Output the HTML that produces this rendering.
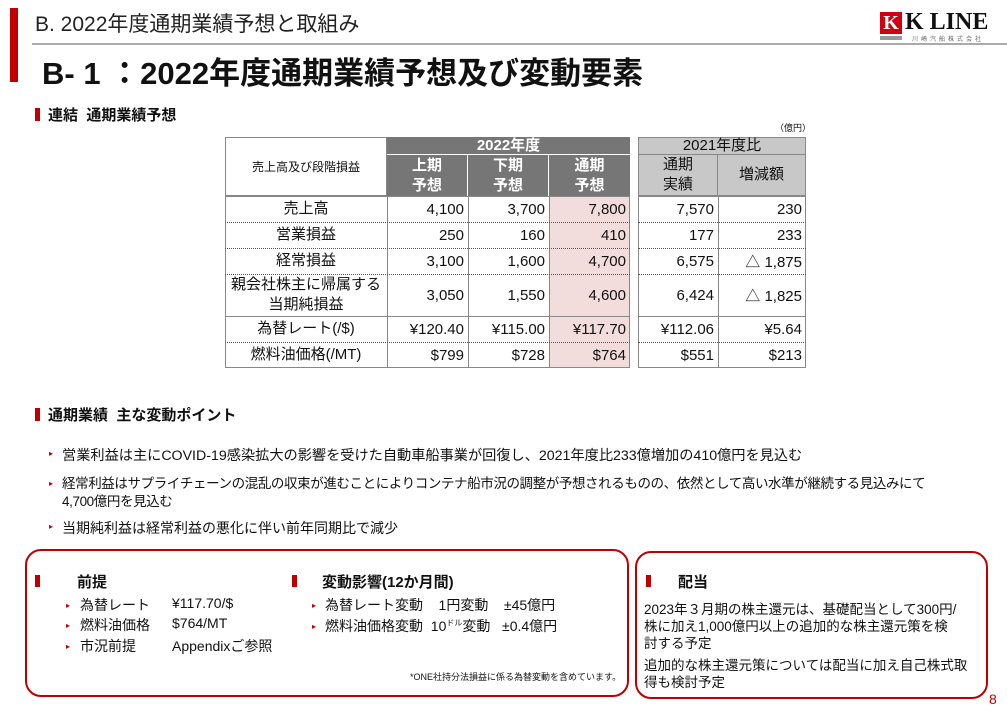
<!DOCTYPE html>
<html><head><meta charset="utf-8"><style>
*{margin:0;padding:0;box-sizing:border-box}
body{width:1007px;height:715px;background:#fff;position:relative;overflow:hidden;font-family:"Liberation Sans","Noto Sans CJK JP",sans-serif;color:#111}
.a{position:absolute;white-space:nowrap}
.c{position:absolute;display:flex;align-items:center;justify-content:flex-end;padding-right:4px;font-size:15px}
.cc{justify-content:center;padding-right:0;text-align:center;line-height:20px}
.h{background:#767676;color:#fff;font-weight:bold}
.g{background:#c8c8c8;color:#111}
.sq{position:absolute;width:5px;height:13px;background:#c00000}
.tri{position:absolute;font-size:8px;color:#c00000}
</style></head><body>
<div class="a" style="left:10px;top:8px;width:8px;height:74px;background:#c00000"></div>
<div class="a" style="left:35px;top:8px;font-size:21px;color:#222">B. 2022年度通期業績予想と取組み</div>
<div class="a" style="left:32px;top:43px;width:975px;height:2px;background:#aaa"></div>
<div class="a" style="left:42px;top:48px;font-size:31px;font-weight:bold">B- 1 ：2022年度通期業績予想及び変動要素</div>
<div class="a" style="left:880px;top:12px;width:22px;height:22px;background:#d00010;color:#fff;font:bold 20px 'Liberation Serif',serif;text-align:center;line-height:22px">K</div>
<div class="a" style="left:905px;top:9px;font:bold 24px 'Liberation Serif',serif">K LINE</div>
<div class="a" style="left:880px;top:36px;width:22px;height:4px;background:#999"></div>
<div class="a" style="left:912px;top:34px;font-size:6px;color:#666;letter-spacing:3px">川崎汽船株式会社</div>

<div class="sq" style="left:35px;top:108px"></div>
<div class="a" style="left:48px;top:104px;font-size:15px;font-weight:bold">連結&nbsp; 通期業績予想</div>
<div class="a" style="left:775px;top:121px;font-size:9px">（億円）</div>

<div class="c cc" style="left:225px;top:137px;width:162px;height:59px;border:1px solid #888;font-size:12px">売上高及び段階損益</div>
<div class="c cc h" style="left:387px;top:137px;width:243px;height:18px;border-bottom:1px solid #fff">2022年度</div>
<div class="c cc h" style="left:387px;top:155px;width:81px;height:41px;border-right:1px solid #fff">上期<br>予想</div>
<div class="c cc h" style="left:468px;top:155px;width:81px;height:41px;border-right:1px solid #fff">下期<br>予想</div>
<div class="c cc h" style="left:549px;top:155px;width:81px;height:41px">通期<br>予想</div>
<div class="c cc g" style="left:638px;top:137px;width:168px;height:18px;border:1px solid #888">2021年度比</div>
<div class="c cc g" style="left:638px;top:155px;width:80px;height:41px;border:1px solid #888;border-top:none">通期<br>実績</div>
<div class="c cc g" style="left:718px;top:155px;width:88px;height:41px;border:1px solid #888;border-top:none;border-left:none">増減額</div>
<div class="a" style="left:549px;top:196px;width:81px;height:172px;background:#f2dcdc"></div>
<div class="a" style="left:225px;top:196px;width:405px;height:172px;border:1px solid #888"></div>
<div class="a" style="left:638px;top:196px;width:168px;height:172px;border:1px solid #888"></div>
<div class="a" style="left:387px;top:196px;width:1px;height:172px;background:#888"></div>
<div class="a" style="left:468px;top:196px;width:1px;height:172px;background:#888"></div>
<div class="a" style="left:549px;top:196px;width:1px;height:172px;background:#888"></div>
<div class="a" style="left:718px;top:196px;width:1px;height:172px;background:#888"></div>
<div class="a" style="left:225px;top:222px;width:405px;border-top:1px dotted #555"></div>
<div class="a" style="left:638px;top:222px;width:168px;border-top:1px dotted #555"></div>
<div class="a" style="left:225px;top:248px;width:405px;border-top:1px dotted #555"></div>
<div class="a" style="left:638px;top:248px;width:168px;border-top:1px dotted #555"></div>
<div class="a" style="left:225px;top:274px;width:405px;border-top:1px dotted #555"></div>
<div class="a" style="left:638px;top:274px;width:168px;border-top:1px dotted #555"></div>
<div class="a" style="left:225px;top:316px;width:405px;border-top:1px solid #888"></div>
<div class="a" style="left:638px;top:316px;width:168px;border-top:1px solid #888"></div>
<div class="a" style="left:225px;top:342px;width:405px;border-top:1px dotted #555"></div>
<div class="a" style="left:638px;top:342px;width:168px;border-top:1px dotted #555"></div>

<div class="c cc" style="left:225px;top:196px;width:162px;height:26px">売上高</div>
<div class="c" style="left:387px;top:196px;width:81px;height:26px">4,100</div>
<div class="c" style="left:468px;top:196px;width:81px;height:26px">3,700</div>
<div class="c" style="left:549px;top:196px;width:81px;height:26px">7,800</div>
<div class="c" style="left:638px;top:196px;width:80px;height:26px">7,570</div>
<div class="c" style="left:718px;top:196px;width:88px;height:26px">230</div>

<div class="c cc" style="left:225px;top:222px;width:162px;height:26px">営業損益</div>
<div class="c" style="left:387px;top:222px;width:81px;height:26px">250</div>
<div class="c" style="left:468px;top:222px;width:81px;height:26px">160</div>
<div class="c" style="left:549px;top:222px;width:81px;height:26px">410</div>
<div class="c" style="left:638px;top:222px;width:80px;height:26px">177</div>
<div class="c" style="left:718px;top:222px;width:88px;height:26px">233</div>

<div class="c cc" style="left:225px;top:248px;width:162px;height:26px">経常損益</div>
<div class="c" style="left:387px;top:248px;width:81px;height:26px">3,100</div>
<div class="c" style="left:468px;top:248px;width:81px;height:26px">1,600</div>
<div class="c" style="left:549px;top:248px;width:81px;height:26px">4,700</div>
<div class="c" style="left:638px;top:248px;width:80px;height:26px">6,575</div>
<div class="c" style="left:718px;top:248px;width:88px;height:26px">△ 1,875</div>

<div class="c cc" style="left:225px;top:274px;width:162px;height:42px">親会社株主に帰属する<br>当期純損益</div>
<div class="c" style="left:387px;top:274px;width:81px;height:42px">3,050</div>
<div class="c" style="left:468px;top:274px;width:81px;height:42px">1,550</div>
<div class="c" style="left:549px;top:274px;width:81px;height:42px">4,600</div>
<div class="c" style="left:638px;top:274px;width:80px;height:42px">6,424</div>
<div class="c" style="left:718px;top:274px;width:88px;height:42px">△ 1,825</div>

<div class="c cc" style="left:225px;top:316px;width:162px;height:26px">為替レート(/$)</div>
<div class="c" style="left:387px;top:316px;width:81px;height:26px">¥120.40</div>
<div class="c" style="left:468px;top:316px;width:81px;height:26px">¥115.00</div>
<div class="c" style="left:549px;top:316px;width:81px;height:26px">¥117.70</div>
<div class="c" style="left:638px;top:316px;width:80px;height:26px">¥112.06</div>
<div class="c" style="left:718px;top:316px;width:88px;height:26px">¥5.64</div>

<div class="c cc" style="left:225px;top:342px;width:162px;height:26px">燃料油価格(/MT)</div>
<div class="c" style="left:387px;top:342px;width:81px;height:26px">$799</div>
<div class="c" style="left:468px;top:342px;width:81px;height:26px">$728</div>
<div class="c" style="left:549px;top:342px;width:81px;height:26px">$764</div>
<div class="c" style="left:638px;top:342px;width:80px;height:26px">$551</div>
<div class="c" style="left:718px;top:342px;width:88px;height:26px">$213</div>

<div class="sq" style="left:35px;top:408px"></div>
<div class="a" style="left:48px;top:404px;font-size:15px;font-weight:bold">通期業績&nbsp; 主な変動ポイント</div>

<div class="tri" style="left:49px;top:449px">▸</div>
<div class="a" style="left:62px;top:445px;font-size:14.2px">営業利益は主にCOVID-19感染拡大の影響を受けた自動車船事業が回復し、2021年度比233億増加の410億円を見込む</div>
<div class="tri" style="left:49px;top:479px">▸</div>
<div class="a" style="left:62px;top:475px;font-size:13.5px;line-height:18px;letter-spacing:-0.4px">経常利益はサプライチェーンの混乱の収束が進むことによりコンテナ船市況の調整が予想されるものの、依然として高い水準が継続する見込みにて<br>4,700億円を見込む</div>
<div class="tri" style="left:49px;top:522px">▸</div>
<div class="a" style="left:62px;top:518px;font-size:14px">当期純利益は経常利益の悪化に伴い前年同期比で減少</div>

<div class="a" style="left:25px;top:549px;width:604px;height:148px;border:2px solid #c00000;border-radius:16px"></div>
<div class="a" style="left:635px;top:551px;width:353px;height:148px;border:2px solid #c00000;border-radius:16px"></div>

<div class="sq" style="left:35px;top:575px;height:12px"></div>
<div class="a" style="left:77px;top:571px;font-size:15px;font-weight:bold">前提</div>
<div class="tri" style="left:66px;top:601px">▸</div><div class="a" style="left:80px;top:595px;font-size:14px">為替レート</div><div class="a" style="left:172px;top:595px;font-size:14px">¥117.70/$</div>
<div class="tri" style="left:66px;top:621px">▸</div><div class="a" style="left:80px;top:615px;font-size:14px">燃料油価格</div><div class="a" style="left:172px;top:615px;font-size:14px">$764/MT</div>
<div class="tri" style="left:66px;top:642px">▸</div><div class="a" style="left:80px;top:636px;font-size:14px">市況前提</div><div class="a" style="left:172px;top:636px;font-size:14px">Appendixご参照</div>

<div class="sq" style="left:292px;top:575px;height:12px"></div>
<div class="a" style="left:322px;top:571px;font-size:15px;font-weight:bold">変動影響(12か月間)</div>
<div class="tri" style="left:312px;top:601px">▸</div><div class="a" style="left:325px;top:595px;font-size:14px">為替レート変動&nbsp;&nbsp;&nbsp; 1円変動&nbsp;&nbsp;&nbsp; ±45億円</div>
<div class="tri" style="left:312px;top:622px">▸</div><div class="a" style="left:325px;top:616px;font-size:14px">燃料油価格変動&nbsp; 10<span style="font-size:8px;vertical-align:super">ドル</span>変動&nbsp;&nbsp; ±0.4億円</div>
<div class="a" style="left:410px;top:670px;font-size:9px">*ONE社持分法損益に係る為替変動を含めています。</div>

<div class="sq" style="left:646px;top:575px;height:12px"></div>
<div class="a" style="left:678px;top:571px;font-size:15px;font-weight:bold">配当</div>
<div class="a" style="left:644px;top:601px;font-size:13.5px;line-height:17px">2023年３月期の株主還元は、基礎配当として300円/<br>株に加え1,000億円以上の追加的な株主還元策を検<br>討する予定</div>
<div class="a" style="left:644px;top:657px;font-size:13.5px;line-height:17px">追加的な株主還元策については配当に加え自己株式取<br>得も検討予定</div>
<div class="a" style="left:989px;top:691px;font-size:14px;color:#c00000">8</div>
</body></html>
